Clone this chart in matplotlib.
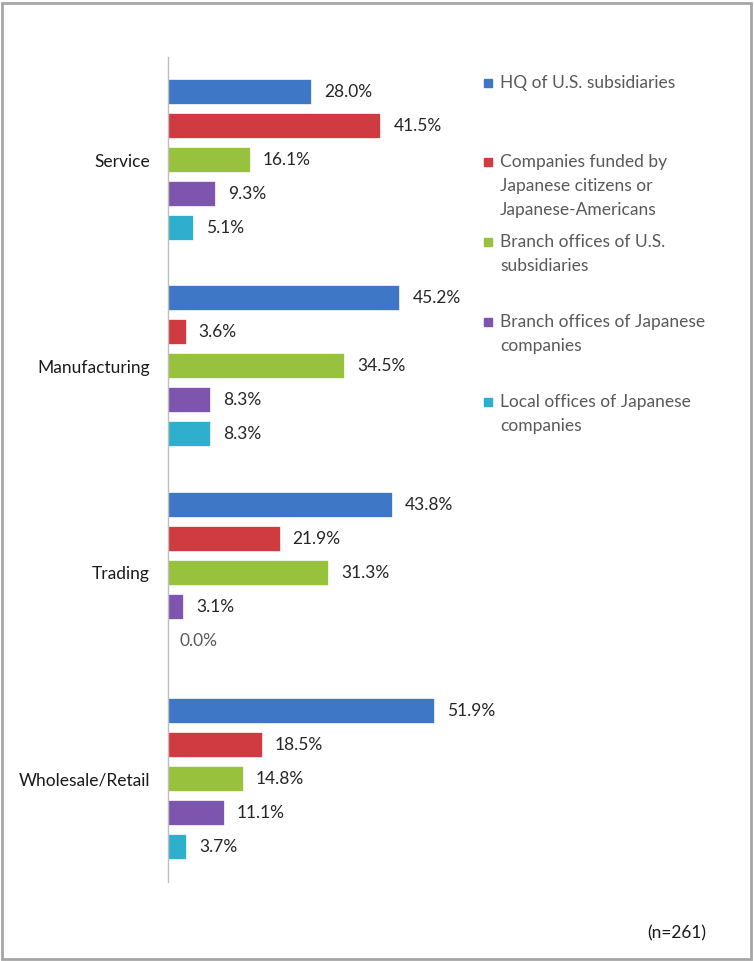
import numpy as np
import matplotlib
matplotlib.use("Agg")
import matplotlib.pyplot as plt
from matplotlib.patches import Rectangle

plt.rcParams['font.family'] = ['Lato', 'DejaVu Sans']

categories = ["Service", "Manufacturing", "Trading", "Wholesale/Retail"]
series_names = [
    "HQ of U.S. subsidiaries",
    "Companies funded by\nJapanese citizens or\nJapanese-Americans",
    "Branch offices of U.S.\nsubsidiaries",
    "Branch offices of Japanese\ncompanies",
    "Local offices of Japanese\ncompanies",
]
hq_us = [28.0, 45.2, 43.8, 51.9]
funded_jp = [41.5, 3.6, 21.9, 18.5]
branch_us = [16.1, 34.5, 31.3, 14.8]
branch_jp = [9.3, 8.3, 3.1, 11.1]
local_jp = [5.1, 8.3, 0.0, 3.7]
series_values = [hq_us, funded_jp, branch_us, branch_jp, local_jp]
colors = ["#3D77C6", "#CF3B40", "#98C13E", "#7D55AE", "#2EAFCE"]

W, H = 754, 961
fs = 12.5
fig = plt.figure(figsize=(W / 100, H / 100), dpi=100)

# axes placed in pixel terms
ax_left, ax_right, ax_top, ax_bottom = 168, 468, 57, 882
ax = fig.add_axes([ax_left / W, 1 - ax_bottom / H,
                   (ax_right - ax_left) / W, (ax_bottom - ax_top) / H])

px_per_unit = 5.14
xmax = (ax_right - ax_left) / px_per_unit
ax.set_xlim(0, xmax)
ax.set_ylim(3.5, -0.5)

y = np.arange(len(categories))
step = 34 / 206.0
height = 26 / 206.0
for i, (vals, col) in enumerate(zip(series_values, colors)):
    pos = y + (i - 2) * step
    ax.barh(pos, vals, height=height, color=col, edgecolor="white", linewidth=1.2)
    for p, v in zip(pos, vals):
        ax.text(v + 12 / px_per_unit, p, f"{v:.1f}%", va="center", ha="left",
                fontsize=fs, color="#262626" if v > 0 else "#595959")

for s in ["top", "right", "bottom"]:
    ax.spines[s].set_visible(False)
ax.spines["left"].set_color("#BFBFBF")
ax.spines["left"].set_linewidth(1.0)
ax.set_xticks([])
ax.set_yticks(y)
ax.set_yticklabels(categories, fontsize=fs, color="#1a1a1a")
ax.tick_params(axis="y", length=0, pad=13)

# legend drawn by hand to follow the original spacing
legend_tops = [82, 161, 241, 321, 401]
for name, col, ty in zip(series_names, colors, legend_tops):
    fig.patches.append(Rectangle((484 / W, 1 - (ty + 5) / H), 8 / W, 8 / H,
                                 transform=fig.transFigure, color=col))
    fig.text(500 / W, 1 - (ty - 7) / H, name, ha="left", va="top",
             fontsize=fs, color="#595959", linespacing=1.6)

fig.text(706 / W, 1 - 933 / H, "(n=261)", ha="right", va="center",
         fontsize=fs, color="#1a1a1a")

# outer frame
fig.patches.append(Rectangle((2 / W, 2 / H), (W - 5) / W, (H - 5) / H,
                             transform=fig.transFigure, fill=False,
                             edgecolor="#A6A6A6", linewidth=2))

fig.savefig("out.png", dpi=100)
